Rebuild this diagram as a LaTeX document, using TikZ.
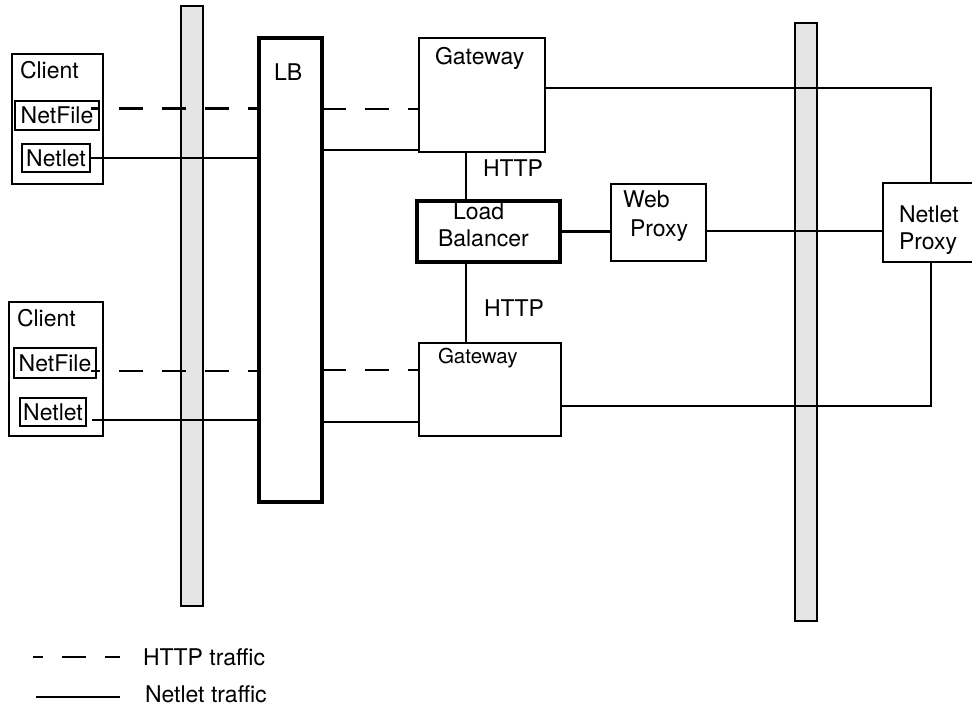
\documentclass[tikz,border=0pt]{standalone}
\usepackage{fontspec}
\setmainfont{TeX Gyre Heros}
\usetikzlibrary{positioning}

\begin{document}
\begin{tikzpicture}
[x=1pt, y=-1pt, font=\fontsize{23}{27}\selectfont,
% STYLES
every node/.style={inner sep=0pt, outer sep=0pt},
zone/.style={rectangle, draw, line width=2.6pt, fill=gray!20, minimum width=22pt, anchor=north west},
frame/.style={rectangle, draw, line width=2.6pt, anchor=north west},
heavy/.style={frame, line width=3.4pt},
caption/.style={anchor=base west},
netlet/.style={line width=2.5pt},
http/.style={line width=2.5pt, dash pattern=on 24pt off 19pt, dash phase=15pt}]

\useasboundingbox (0,0) rectangle (972,708);

% firewalls
\node [zone, minimum height=600pt] (dmz-left) at (181,6) {};
\node [zone, minimum height=598pt] (dmz-right) at (795,23) {};

% Clients
\node [frame, minimum width=91pt, minimum height=130pt] (client1) at (12,54) {};
\node [caption] (client1-txt) at (20,79) {Client};
\node [frame, minimum width=84pt, minimum height=29pt] (netfile1) at (15,101) {NetFile};
\node [frame, minimum width=68pt, minimum height=28pt] (netlet1) at (22,144) {Netlet};

\node [frame, minimum width=94pt, minimum height=134pt] (client2) at (9,302) {};
\node [caption] (client2-txt) at (17,327) {Client};
\node [frame, minimum width=82pt, minimum height=30pt] (netfile2) at (14,348) {NetFile};
\node [frame, minimum width=66pt, minimum height=28pt] (netlet2) at (20,398) {Netlet};

% LB
\node [heavy, minimum width=63pt, minimum height=464pt] (lb) at (259,38) {};
\node [caption] (lb-txt) at (274,81) {LB};

% Gateways
\node [frame, minimum width=126pt, minimum height=114pt] (gw1) at (419,38) {};
\node [caption] (gw1-txt) at (435,65) {Gateway};
\node [frame, minimum width=142pt, minimum height=93pt] (gw2) at (419,343) {};
\node [caption, font=\fontsize{20.5}{24}\selectfont] (gw2-txt) at (438,364) {Gateway};

% Load Balancer
\node [heavy, minimum width=143pt, minimum height=61pt] (lbal) at (417,201) {};
\node [caption] (lbal-txt1) at (453,220) {Load};
\node [caption] (lbal-txt2) at (438,247) {Balancer};

% Proxies
\node [frame, minimum width=95pt, minimum height=77pt] (wproxy) at (611,184) {};
\node [caption] (wproxy-txt1) at (623,208) {Web};
\node [caption] (wproxy-txt2) at (630,237) {Proxy};
\node [frame, minimum width=96pt, minimum height=79pt] (nproxy) at (883,183) {};
\node [caption] (nproxy-txt1) at (899,223) {Netlet};
\node [caption] (nproxy-txt2) at (899,250) {Proxy};

\node [caption] (http1) at (483,177) {HTTP};
\node [caption] (http2) at (484,317) {HTTP};

%%%%%%%%%%%%%%%%

% clients to LB
\coordinate (nf1-out) at ([shift={(-8pt,7pt)}]netfile1.east);
\coordinate (nf2-out) at ([shift={(-5pt,-8pt)}]netfile2.east);
\coordinate (nl2-out) at ([shift={(6pt,-8pt)}]netlet2.east);
\draw[http] (nf1-out) -- (nf1-out -| lb.west);
\draw[netlet] (netlet1.east) -- (netlet1.east -| lb.west);
\draw[http] (nf2-out) -- (nf2-out -| lb.west);
\draw[netlet] (nl2-out) -- (nl2-out -| lb.west);

% LB to gateways
\coordinate (gw1-http) at ([yshift=-14pt]gw1.west);
\coordinate (gw1-net) at ([yshift=-55pt]gw1.west);
\coordinate (gw2-http) at ([yshift=19.5pt]gw2.west);
\coordinate (gw2-net) at ([yshift=-32.5pt]gw2.west);
\draw[http, dash phase=0pt] (lb.east |- gw1-http) -- (gw1-http);
\draw[netlet] (lb.east |- gw1-net) -- (gw1-net);
\draw[http, dash phase=0pt] (lb.east |- gw2-http) -- (gw2-http);
\draw[netlet] (lb.east |- gw2-net) -- (gw2-net);

% gateways and load balancer
\coordinate (gw1-lbal) at ([xshift=-16pt]gw1.south);
\coordinate (lbal-gw2) at ([xshift=-22.5pt]lbal.south);
\draw[netlet] (gw1-lbal) -- (gw1-lbal |- lbal.north);
\draw[netlet] (lbal-gw2) -- (lbal-gw2 |- gw2.north);

% proxies
\coordinate (wp-out) at ([yshift=-8.5pt]wproxy.east);
\draw[netlet] (lbal.east) -- (lbal.east -| wproxy.west);
\draw[netlet] (wp-out) -- (wp-out -| nproxy.west);
\coordinate (gw1-np) at ([yshift=7pt]gw1.east);
\coordinate (gw2-np) at ([yshift=-16.5pt]gw2.east);
\draw[netlet] (gw1-np) -| (nproxy.north);
\draw[netlet] (gw2-np) -| (nproxy.south);

% key
\node [caption] (key-http) at (143,665) {HTTP traffic};
\node [caption] (key-net) at (145,702) {Netlet traffic};
\coordinate (key-http-line) at (33,657);
\coordinate (key-net-line) at (36,697);
\draw[http, dash phase=14pt] (key-http-line) -- ++(87,0);
\draw[netlet] (key-net-line) -- ++(84,0);

\end{tikzpicture}
\end{document}
